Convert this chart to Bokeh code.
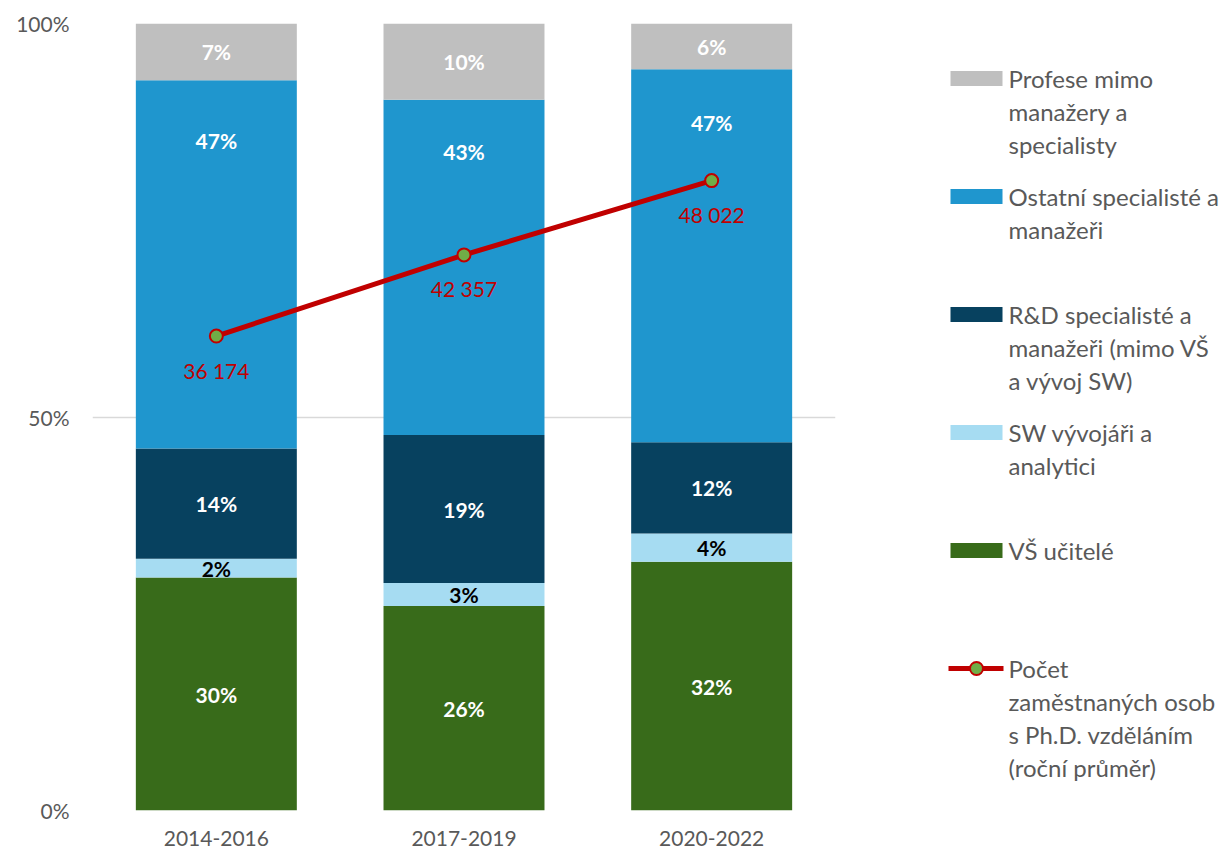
from bokeh.plotting import figure
from bokeh.models import ColumnDataSource, Range1d, FactorRange, FixedTicker, PrintfTickFormatter
from bokeh.layouts import row
from bokeh.embed import file_html
from bokeh.resources import INLINE
from bokeh.core.properties import value

# ---------------- data ----------------
periods = ["2014-2016", "2017-2019", "2020-2022"]
vs_ucitele = [29.6, 26.0, 31.6]        # VŠ učitelé (%)
sw_vyvojari = [2.4, 2.9, 3.6]          # SW vývojáři a analytici (%)
rd_specialiste = [14.0, 18.8, 11.6]    # R&D specialisté a manažeři (%)
ostatni = [46.8, 42.6, 47.4]           # Ostatní specialisté a manažeři (%)
profese_mimo = [7.2, 9.7, 5.8]         # Profese mimo manažery a specialisty (%)
phd_count = [36174, 42357, 48022]      # Počet zaměstnaných osob s Ph.D.
y_ticks = [0, 50, 100]

stack_keys = ["vs", "sw", "rd", "ost", "prof"]
stack_values = [vs_ucitele, sw_vyvojari, rd_specialiste, ostatni, profese_mimo]
stack_colors = ["#386b1a", "#a6dcf2", "#07415f", "#1f96ce", "#bfbfbf"]
label_colors = ["white", "black", "white", "white", "white"]

legend_labels = [
    "Profese mimo\nmanažery a\nspecialisty",
    "Ostatní specialisté a\nmanažeři",
    "R&D specialisté a\nmanažeři (mimo VŠ\na vývoj SW)",
    "SW vývojáři a\nanalytici",
    "VŠ učitelé",
    "Počet\nzaměstnaných osob\ns Ph.D. vzděláním\n(roční průměr)",
]
legend_colors = ["#bfbfbf", "#1f96ce", "#07415f", "#a6dcf2", "#386b1a"]

FONT = "Lato"
GREY_TEXT = "#595959"
RED = "#c00000"

H = 850
TOP = 23
BOTTOM = 810
MAIN_W = 900
LEG_W = 327

# ---------------- main chart ----------------
data = {"period": periods}
for k, v in zip(stack_keys, stack_values):
    data[k] = v
src = ColumnDataSource(data)

p = figure(x_range=FactorRange(*periods), y_range=Range1d(0, 100),
           width=MAIN_W, height=H, toolbar_location=None, output_backend="svg",
           min_border_left=92, min_border_right=MAIN_W - 835,
           min_border_top=TOP, min_border_bottom=H - BOTTOM)
p.extra_y_ranges = {"cnt": Range1d(0, 60000)}

p.vbar_stack(stack_keys, x="period", width=0.65, source=src,
             fill_color=stack_colors, line_color=None)

# segment labels (the "Ostatní" labels sit near the top of their segment)
lx, ly, lt, lc, lo = [], [], [], [], []
top_label_offsets = [60, 52, 53]
for i, per in enumerate(periods):
    bottom = 0.0
    for k, vals, col in zip(stack_keys, stack_values, label_colors):
        v = vals[i]
        lx.append(per)
        if k == "ost":
            ly.append(bottom + v)
            lo.append(top_label_offsets[i])
        else:
            ly.append(bottom + v / 2)
            lo.append(0)
        lt.append(f"{round(v)}%")
        lc.append(col)
        bottom += v
p.text(x=lx, y=ly, text=lt, text_color=lc, y_offset=lo,
       text_align="center", text_baseline="middle",
       text_font=value(FONT), text_font_size="21px", text_font_style="bold")

# line on secondary range
p.line(x=periods, y=phd_count, y_range_name="cnt", line_color=RED, line_width=5)
p.scatter(x=periods, y=phd_count, y_range_name="cnt", marker="circle", size=13,
          fill_color="#70ad47", line_color=RED, line_width=2)
p.text(x=periods, y=phd_count, y_range_name="cnt",
       text=[f"{c:,}".replace(",", " ") for c in phd_count],
       y_offset=34, text_color=RED, text_align="center", text_baseline="middle",
       text_font=value(FONT), text_font_size="21px")

# axes / grid
p.outline_line_color = None
p.xgrid.grid_line_color = None
p.ygrid.grid_line_color = "#d9d9d9"
p.ygrid.grid_line_width = 1.5
p.yaxis.ticker = FixedTicker(ticks=y_ticks)
p.yaxis.formatter = PrintfTickFormatter(format="%d%%")
for ax in (p.xaxis, p.yaxis):
    ax.axis_line_color = None
    ax.major_tick_line_color = None
    ax.minor_tick_line_color = None
    ax.major_label_text_font = FONT
    ax.major_label_text_font_size = "21px"
    ax.major_label_text_color = GREY_TEXT
p.yaxis.major_label_standoff = 17
p.xaxis.major_label_standoff = 14

# ---------------- legend panel ----------------
# frame aligned with main frame; data units = page pixels
lg = figure(width=LEG_W, height=H, x_range=Range1d(MAIN_W, MAIN_W + LEG_W),
            y_range=Range1d(BOTTOM, TOP),
            toolbar_location=None, output_backend="svg",
            min_border_left=0, min_border_right=0,
            min_border_top=TOP, min_border_bottom=H - BOTTOM,
            x_axis_location=None, y_axis_location=None)
lg.outline_line_color = None
lg.grid.visible = False

item_step = 118
first_y = 78
line_step = 33
sw_x = 976
txt_x = 1008

sw_y = [first_y + item_step * i for i in range(len(legend_colors))]
lg.rect(x=[sw_x] * len(legend_colors), y=sw_y, width=52, height=15,
        fill_color=legend_colors, line_color=None)
ln_y = first_y + item_step * len(legend_colors)
lg.line(x=[sw_x - 28, sw_x + 27], y=[ln_y, ln_y], line_color=RED, line_width=5)
lg.scatter(x=[sw_x], y=[ln_y], marker="circle", size=13, fill_color="#70ad47",
           line_color=RED, line_width=2)

tx, ty, tt = [], [], []
for i, lab in enumerate(legend_labels):
    for j, part in enumerate(lab.split("\n")):
        tx.append(txt_x)
        ty.append(first_y + item_step * i + line_step * j)
        tt.append(part)
lg.text(x=tx, y=ty, text=tt, text_color=GREY_TEXT, text_align="left", text_baseline="middle",
        text_font=value(FONT), text_font_size="24px")

layout = row(p, lg)
open("out.html", "w").write(file_html(layout, INLINE))
